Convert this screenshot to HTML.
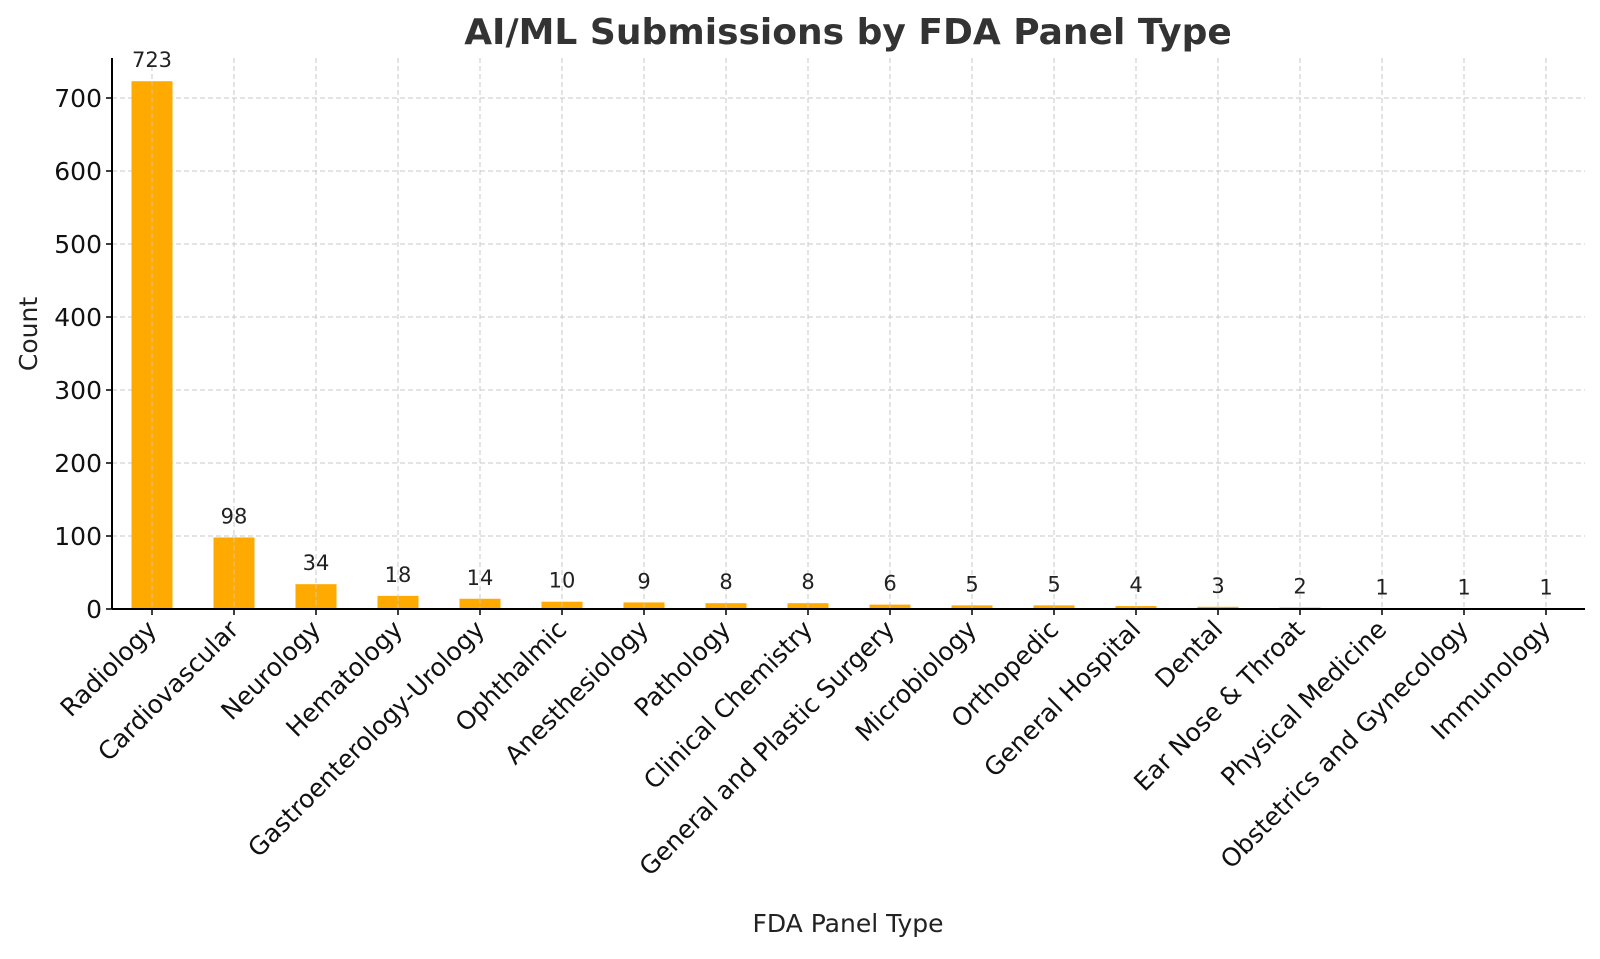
<!DOCTYPE html>
<html><head><meta charset="utf-8"><style>
body{margin:0;background:#fff;}
svg text{font-family:"DejaVu Sans","Liberation Sans",sans-serif;}
</style></head><body>
<svg id="chart" width="1600" height="954" xmlns="http://www.w3.org/2000/svg">
<text x="848" y="44" text-anchor="middle" font-size="36" font-weight="bold" fill="#333">AI/ML Submissions by FDA Panel Type</text>
<g id="grid"></g>
<g id="bars"></g>
<g id="axes"></g>
<text transform="translate(37,334) rotate(-90)" text-anchor="middle" font-size="25" fill="#222">Count</text>
<text x="848" y="932" text-anchor="middle" font-size="25" fill="#222">FDA Panel Type</text>
</svg>
<script>
const categories=["Radiology","Cardiovascular","Neurology","Hematology","Gastroenterology-Urology","Ophthalmic","Anesthesiology","Pathology","Clinical Chemistry","General and Plastic Surgery","Microbiology","Orthopedic","General Hospital","Dental","Ear Nose & Throat","Physical Medicine","Obstetrics and Gynecology","Immunology"];
const counts=[723,98,34,18,14,10,9,8,8,6,5,5,4,3,2,1,1,1];
const yTicks=[0,100,200,300,400,500,600,700];
const NS="http://www.w3.org/2000/svg";
const L=112,R=1585,T=58,B=609;
const y=v=>B-v*(511/700);
const x=i=>152+i*82;
const bw=41;
function mk(t,a,p){const e=document.createElementNS(NS,t);for(const k in a)e.setAttribute(k,a[k]);p.appendChild(e);return e;}
const grid=document.getElementById('grid'),bars=document.getElementById('bars'),axes=document.getElementById('axes');
yTicks.forEach(v=>{
 const g=mk('line',{x1:L,x2:R,y1:y(v),y2:y(v),stroke:'#c8c8c8','stroke-dasharray':'5,3','stroke-width':1},grid);
 
 
 const tk=mk('line',{x1:L-6,x2:L,y1:y(v),y2:y(v),stroke:'#000','stroke-width':1.5},axes);
 
 
 const t=mk('text',{x:L-10,y:y(v)+9,'text-anchor':'end','font-size':25,fill:'#111'},axes);
 t.textContent=v;
 
 
});
categories.forEach((c,i)=>{
 const g=mk('line',{x1:x(i),x2:x(i),y1:T,y2:B,stroke:'#c8c8c8','stroke-dasharray':'5,3','stroke-width':1},grid);
 
 
 const r=mk('rect',{x:x(i)-bw/2,y:y(counts[i]),width:bw,height:B-y(counts[i]),fill:'#ffaa00'},bars);
 
 
 const gl=mk('line',{x1:x(i),x2:x(i),y1:y(counts[i]),y2:B,stroke:'#d8c8a0','stroke-dasharray':'5,3','stroke-width':1},bars);
 
 
 const vl=mk('text',{x:x(i),y:y(counts[i])-14,'text-anchor':'middle','font-size':21,fill:'#222'},bars);
 vl.textContent=counts[i];
 
 
 const tk=mk('line',{x1:x(i),x2:x(i),y1:B,y2:B+6,stroke:'#000','stroke-width':1.5},axes);
 
 
 const t=mk('text',{transform:`translate(${x(i)+6},${B+22}) rotate(-45)`,'text-anchor':'end','font-size':25,fill:'#111'},axes);
 t.textContent=c;
 
 
});
const ya=mk('line',{x1:L,x2:L,y1:T,y2:B,stroke:'#000','stroke-width':2},axes);


const xa=mk('line',{x1:L,x2:R,y1:B,y2:B,stroke:'#000','stroke-width':2},axes);


</script>
</body></html>
